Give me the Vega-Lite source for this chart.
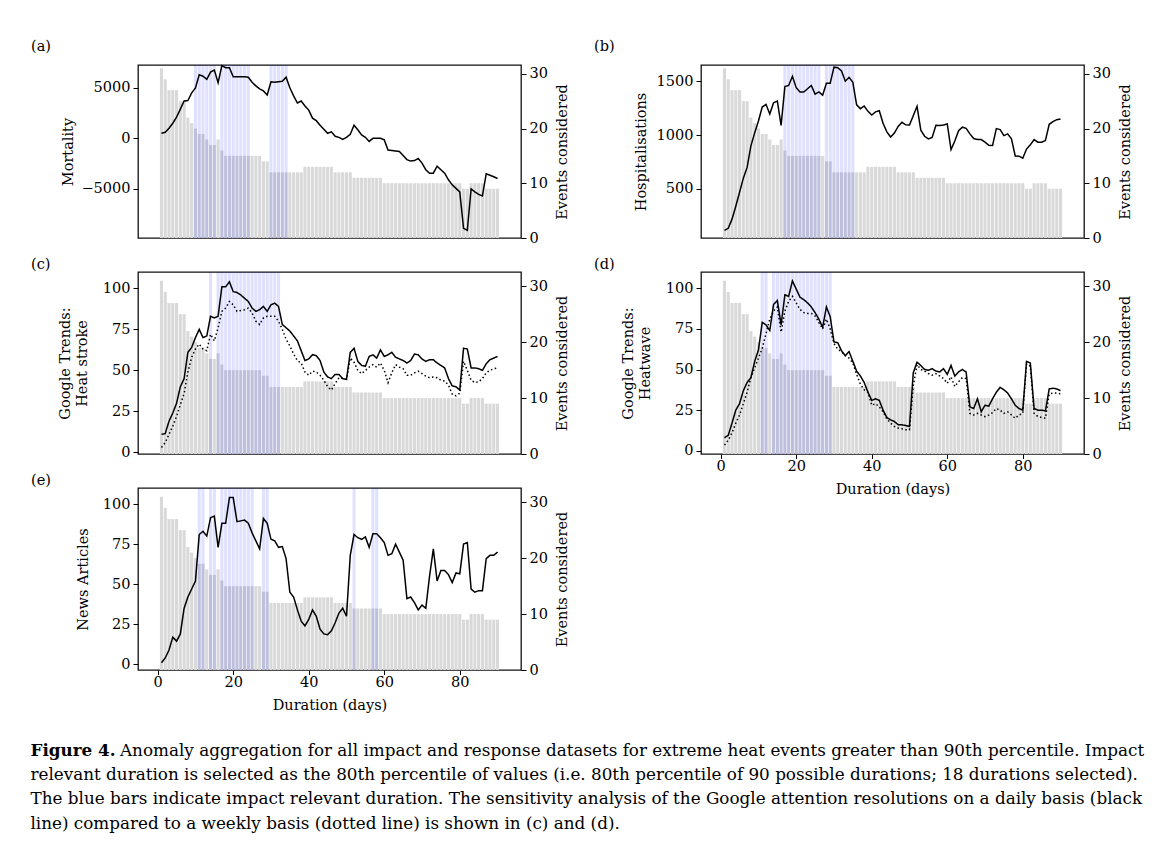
{
"$schema": "https://vega.github.io/schema/vega-lite/v6.json",
"padding": {"left": 30, "top": 37, "right": 10, "bottom": 10},
"background": "white",
"config": {
"font": "DejaVu Serif",
"view": {"stroke": "#111", "strokeWidth": 1.3},
"axis": {"labelFont": "DejaVu Serif", "labelFontSize": 14.5, "labelColor": "#000", "titleFont": "DejaVu Serif", "titleFontSize": 14.5, "titleFontWeight": "normal", "titleColor": "#000", "tickColor": "#000", "tickSize": 5, "tickWidth": 1, "domain": false, "grid": false, "labelPadding": 3, "labelFlush": false, "labelOverlap": false},
"title": {"font": "DejaVu Serif", "fontSize": 14.5, "fontWeight": "normal", "color": "#000"},
"text": {"font": "DejaVu Serif", "fontSize": 16.8, "color": "#000"}
},
"datasets": {
"events": [{"day":1,"events":31},{"day":2,"events":29},{"day":3,"events":27},{"day":4,"events":27},{"day":5,"events":27},{"day":6,"events":25},{"day":7,"events":25},{"day":8,"events":22},{"day":9,"events":21},{"day":10,"events":20},{"day":11,"events":19},{"day":12,"events":19},{"day":13,"events":18},{"day":14,"events":17},{"day":15,"events":17},{"day":16,"events":18},{"day":17,"events":16},{"day":18,"events":15},{"day":19,"events":15},{"day":20,"events":15},{"day":21,"events":15},{"day":22,"events":15},{"day":23,"events":15},{"day":24,"events":15},{"day":25,"events":15},{"day":26,"events":15},{"day":27,"events":15},{"day":28,"events":14},{"day":29,"events":14},{"day":30,"events":12},{"day":31,"events":12},{"day":32,"events":12},{"day":33,"events":12},{"day":34,"events":12},{"day":35,"events":12},{"day":36,"events":12},{"day":37,"events":12},{"day":38,"events":12},{"day":39,"events":13},{"day":40,"events":13},{"day":41,"events":13},{"day":42,"events":13},{"day":43,"events":13},{"day":44,"events":13},{"day":45,"events":13},{"day":46,"events":13},{"day":47,"events":12},{"day":48,"events":12},{"day":49,"events":12},{"day":50,"events":12},{"day":51,"events":12},{"day":52,"events":11},{"day":53,"events":11},{"day":54,"events":11},{"day":55,"events":11},{"day":56,"events":11},{"day":57,"events":11},{"day":58,"events":11},{"day":59,"events":11},{"day":60,"events":10},{"day":61,"events":10},{"day":62,"events":10},{"day":63,"events":10},{"day":64,"events":10},{"day":65,"events":10},{"day":66,"events":10},{"day":67,"events":10},{"day":68,"events":10},{"day":69,"events":10},{"day":70,"events":10},{"day":71,"events":10},{"day":72,"events":10},{"day":73,"events":10},{"day":74,"events":10},{"day":75,"events":10},{"day":76,"events":10},{"day":77,"events":10},{"day":78,"events":10},{"day":79,"events":10},{"day":80,"events":10},{"day":81,"events":9},{"day":82,"events":9},{"day":83,"events":10},{"day":84,"events":10},{"day":85,"events":10},{"day":86,"events":10},{"day":87,"events":9},{"day":88,"events":9},{"day":89,"events":9},{"day":90,"events":9}],
"a": [{"day":1,"mortality":500},{"day":2,"mortality":600},{"day":3,"mortality":1000},{"day":4,"mortality":1500},{"day":5,"mortality":2100},{"day":6,"mortality":2900},{"day":7,"mortality":3700},{"day":8,"mortality":3750},{"day":9,"mortality":4500},{"day":10,"mortality":5000},{"day":11,"mortality":6300},{"day":12,"mortality":6150},{"day":13,"mortality":5850},{"day":14,"mortality":6550},{"day":15,"mortality":6750},{"day":16,"mortality":5500},{"day":17,"mortality":7200},{"day":18,"mortality":7000},{"day":19,"mortality":7000},{"day":20,"mortality":6100},{"day":21,"mortality":6100},{"day":22,"mortality":6100},{"day":23,"mortality":6100},{"day":24,"mortality":6050},{"day":25,"mortality":5550},{"day":26,"mortality":5200},{"day":27,"mortality":4900},{"day":28,"mortality":4700},{"day":29,"mortality":4300},{"day":30,"mortality":5600},{"day":31,"mortality":5550},{"day":32,"mortality":5600},{"day":33,"mortality":5650},{"day":34,"mortality":6050},{"day":35,"mortality":5000},{"day":36,"mortality":4200},{"day":37,"mortality":3500},{"day":38,"mortality":3700},{"day":39,"mortality":3200},{"day":40,"mortality":2800},{"day":41,"mortality":2000},{"day":42,"mortality":1750},{"day":43,"mortality":1300},{"day":44,"mortality":900},{"day":45,"mortality":500},{"day":46,"mortality":650},{"day":47,"mortality":200},{"day":48,"mortality":100},{"day":49,"mortality":-100},{"day":50,"mortality":100},{"day":51,"mortality":400},{"day":52,"mortality":1300},{"day":53,"mortality":850},{"day":54,"mortality":350},{"day":55,"mortality":100},{"day":56,"mortality":-300},{"day":57,"mortality":0},{"day":58,"mortality":0},{"day":59,"mortality":0},{"day":60,"mortality":-150},{"day":61,"mortality":-1150},{"day":62,"mortality":-1200},{"day":63,"mortality":-1250},{"day":64,"mortality":-1300},{"day":65,"mortality":-1700},{"day":66,"mortality":-2100},{"day":67,"mortality":-2250},{"day":68,"mortality":-2200},{"day":69,"mortality":-2000},{"day":70,"mortality":-2450},{"day":71,"mortality":-3100},{"day":72,"mortality":-3450},{"day":73,"mortality":-3450},{"day":74,"mortality":-2750},{"day":75,"mortality":-3100},{"day":76,"mortality":-3450},{"day":77,"mortality":-4100},{"day":78,"mortality":-4600},{"day":79,"mortality":-4950},{"day":80,"mortality":-5300},{"day":81,"mortality":-8900},{"day":82,"mortality":-9100},{"day":83,"mortality":-5000},{"day":84,"mortality":-5300},{"day":85,"mortality":-5550},{"day":86,"mortality":-5700},{"day":87,"mortality":-3500},{"day":88,"mortality":-3650},{"day":89,"mortality":-3800},{"day":90,"mortality":-3970}],
"b": [{"day":1,"hosp":115},{"day":2,"hosp":135},{"day":3,"hosp":220},{"day":4,"hosp":340},{"day":5,"hosp":470},{"day":6,"hosp":600},{"day":7,"hosp":700},{"day":8,"hosp":900},{"day":9,"hosp":1020},{"day":10,"hosp":1130},{"day":11,"hosp":1260},{"day":12,"hosp":1285},{"day":13,"hosp":1195},{"day":14,"hosp":1300},{"day":15,"hosp":1315},{"day":16,"hosp":1090},{"day":17,"hosp":1450},{"day":18,"hosp":1460},{"day":19,"hosp":1545},{"day":20,"hosp":1440},{"day":21,"hosp":1400},{"day":22,"hosp":1400},{"day":23,"hosp":1430},{"day":24,"hosp":1460},{"day":25,"hosp":1380},{"day":26,"hosp":1400},{"day":27,"hosp":1370},{"day":28,"hosp":1480},{"day":29,"hosp":1480},{"day":30,"hosp":1630},{"day":31,"hosp":1625},{"day":32,"hosp":1595},{"day":33,"hosp":1500},{"day":34,"hosp":1536},{"day":35,"hosp":1489},{"day":36,"hosp":1280},{"day":37,"hosp":1245},{"day":38,"hosp":1270},{"day":39,"hosp":1220},{"day":40,"hosp":1186},{"day":41,"hosp":1215},{"day":42,"hosp":1226},{"day":43,"hosp":1110},{"day":44,"hosp":1030},{"day":45,"hosp":982},{"day":46,"hosp":1018},{"day":47,"hosp":1080},{"day":48,"hosp":1118},{"day":49,"hosp":1095},{"day":50,"hosp":1094},{"day":51,"hosp":1180},{"day":52,"hosp":1267},{"day":53,"hosp":1045},{"day":54,"hosp":989},{"day":55,"hosp":965},{"day":56,"hosp":978},{"day":57,"hosp":1090},{"day":58,"hosp":1088},{"day":59,"hosp":1094},{"day":60,"hosp":1103},{"day":61,"hosp":866},{"day":62,"hosp":945},{"day":63,"hosp":1040},{"day":64,"hosp":1073},{"day":65,"hosp":1063},{"day":66,"hosp":1011},{"day":67,"hosp":968},{"day":68,"hosp":958},{"day":69,"hosp":958},{"day":70,"hosp":935},{"day":71,"hosp":905},{"day":72,"hosp":903},{"day":73,"hosp":1060},{"day":74,"hosp":1051},{"day":75,"hosp":995},{"day":76,"hosp":1011},{"day":77,"hosp":965},{"day":78,"hosp":806},{"day":79,"hosp":804},{"day":80,"hosp":785},{"day":81,"hosp":870},{"day":82,"hosp":909},{"day":83,"hosp":958},{"day":84,"hosp":934},{"day":85,"hosp":934},{"day":86,"hosp":949},{"day":87,"hosp":1100},{"day":88,"hosp":1125},{"day":89,"hosp":1143},{"day":90,"hosp":1150}],
"c": [{"day":1,"daily":11,"weekly":3},{"day":2,"daily":11.5,"weekly":6},{"day":3,"daily":19,"weekly":11},{"day":4,"daily":24,"weekly":16},{"day":5,"daily":30,"weekly":22},{"day":6,"daily":40,"weekly":29},{"day":7,"daily":45,"weekly":36},{"day":8,"daily":61,"weekly":49},{"day":9,"daily":64,"weekly":58},{"day":10,"daily":70,"weekly":63},{"day":11,"daily":75,"weekly":66},{"day":12,"daily":70,"weekly":63},{"day":13,"daily":71,"weekly":62},{"day":14,"daily":83,"weekly":72},{"day":15,"daily":82,"weekly":68},{"day":16,"daily":83,"weekly":76},{"day":17,"daily":101,"weekly":86},{"day":18,"daily":101,"weekly":88},{"day":19,"daily":104,"weekly":92},{"day":20,"daily":98,"weekly":90},{"day":21,"daily":97.5,"weekly":86},{"day":22,"daily":96,"weekly":86.5},{"day":23,"daily":94,"weekly":87},{"day":24,"daily":92,"weekly":88},{"day":25,"daily":88,"weekly":85},{"day":26,"daily":86,"weekly":80},{"day":27,"daily":87,"weekly":78},{"day":28,"daily":89,"weekly":82},{"day":29,"daily":86,"weekly":83},{"day":30,"daily":90,"weekly":83},{"day":31,"daily":91,"weekly":83},{"day":32,"daily":89,"weekly":80},{"day":33,"daily":78,"weekly":75},{"day":34,"daily":76,"weekly":69},{"day":35,"daily":74,"weekly":65},{"day":36,"daily":71,"weekly":60},{"day":37,"daily":68,"weekly":56},{"day":38,"daily":62,"weekly":54.5},{"day":39,"daily":56,"weekly":49},{"day":40,"daily":57,"weekly":47},{"day":41,"daily":59.6,"weekly":49.5},{"day":42,"daily":59,"weekly":49},{"day":43,"daily":56,"weekly":47},{"day":44,"daily":49,"weekly":44},{"day":45,"daily":46,"weekly":40},{"day":46,"daily":45,"weekly":38},{"day":47,"daily":47.5,"weekly":42},{"day":48,"daily":47.5,"weekly":45.5},{"day":49,"daily":45,"weekly":45},{"day":50,"daily":44.5,"weekly":44.5},{"day":51,"daily":61,"weekly":57.5},{"day":52,"daily":63.5,"weekly":55},{"day":53,"daily":55.5,"weekly":50},{"day":54,"daily":53,"weekly":48},{"day":55,"daily":52.5,"weekly":50},{"day":56,"daily":58.5,"weekly":52},{"day":57,"daily":59.5,"weekly":53.5},{"day":58,"daily":57.5,"weekly":52},{"day":59,"daily":62.5,"weekly":54.5},{"day":60,"daily":58.5,"weekly":50},{"day":61,"daily":59.5,"weekly":42.5},{"day":62,"daily":61,"weekly":48.5},{"day":63,"daily":58,"weekly":53.5},{"day":64,"daily":57,"weekly":52},{"day":65,"daily":56,"weekly":51},{"day":66,"daily":54.5,"weekly":47},{"day":67,"daily":56,"weekly":47},{"day":68,"daily":60,"weekly":48.5},{"day":69,"daily":59.5,"weekly":49.5},{"day":70,"daily":57,"weekly":48},{"day":71,"daily":55.5,"weekly":46.5},{"day":72,"daily":56.5,"weekly":45.5},{"day":73,"daily":56.5,"weekly":46},{"day":74,"daily":54.5,"weekly":45.5},{"day":75,"daily":53,"weekly":44},{"day":76,"daily":51.5,"weekly":43.5},{"day":77,"daily":45,"weekly":41},{"day":78,"daily":40.5,"weekly":35.5},{"day":79,"daily":40,"weekly":34.5},{"day":80,"daily":38,"weekly":36},{"day":81,"daily":63.5,"weekly":55.5},{"day":82,"daily":63,"weekly":50},{"day":83,"daily":51.5,"weekly":44},{"day":84,"daily":51.5,"weekly":42.5},{"day":85,"daily":51,"weekly":43},{"day":86,"daily":50,"weekly":45},{"day":87,"daily":54,"weekly":48.5},{"day":88,"daily":56.5,"weekly":50},{"day":89,"daily":57.5,"weekly":51},{"day":90,"daily":58.5,"weekly":51.5}],
"d": [{"day":1,"daily":8,"weekly":3.5},{"day":2,"daily":9.5,"weekly":6.5},{"day":3,"daily":17,"weekly":11},{"day":4,"daily":25,"weekly":17},{"day":5,"daily":29,"weekly":22},{"day":6,"daily":37,"weekly":29},{"day":7,"daily":42,"weekly":36},{"day":8,"daily":45,"weekly":45},{"day":9,"daily":55,"weekly":51},{"day":10,"daily":62,"weekly":57},{"day":11,"daily":79,"weekly":63},{"day":12,"daily":77.5,"weekly":72},{"day":13,"daily":74,"weekly":81},{"day":14,"daily":90,"weekly":86},{"day":15,"daily":92.5,"weekly":88.5},{"day":16,"daily":77.5,"weekly":73},{"day":17,"daily":96,"weekly":86},{"day":18,"daily":95,"weekly":92},{"day":19,"daily":104.5,"weekly":95},{"day":20,"daily":99.5,"weekly":91},{"day":21,"daily":94.5,"weekly":87},{"day":22,"daily":93,"weekly":85},{"day":23,"daily":91,"weekly":84.5},{"day":24,"daily":88.5,"weekly":84.5},{"day":25,"daily":85,"weekly":83},{"day":26,"daily":81,"weekly":79},{"day":27,"daily":76,"weekly":75},{"day":28,"daily":88.5,"weekly":81},{"day":29,"daily":82.5,"weekly":75},{"day":30,"daily":67,"weekly":66},{"day":31,"daily":66.5,"weekly":62.5},{"day":32,"daily":61.5,"weekly":61},{"day":33,"daily":58.5,"weekly":58.5},{"day":34,"daily":61,"weekly":57},{"day":35,"daily":55,"weekly":54},{"day":36,"daily":49,"weekly":47},{"day":37,"daily":46,"weekly":41},{"day":38,"daily":42,"weekly":37.5},{"day":39,"daily":36,"weekly":36},{"day":40,"daily":31,"weekly":28},{"day":41,"daily":32,"weekly":29},{"day":42,"daily":31,"weekly":27},{"day":43,"daily":25,"weekly":24},{"day":44,"daily":20.5,"weekly":19.5},{"day":45,"daily":19,"weekly":17},{"day":46,"daily":18,"weekly":15},{"day":47,"daily":16,"weekly":14},{"day":48,"daily":16,"weekly":13.5},{"day":49,"daily":15.5,"weekly":13},{"day":50,"daily":15,"weekly":13},{"day":51,"daily":48,"weekly":40},{"day":52,"daily":54.5,"weekly":53},{"day":53,"daily":52.5,"weekly":50},{"day":54,"daily":50,"weekly":49},{"day":55,"daily":49.5,"weekly":47.5},{"day":56,"daily":50.5,"weekly":46.5},{"day":57,"daily":49,"weekly":47.5},{"day":58,"daily":48.5,"weekly":46},{"day":59,"daily":50.5,"weekly":44.5},{"day":60,"daily":47,"weekly":41.5},{"day":61,"daily":52.5,"weekly":45.5},{"day":62,"daily":46,"weekly":39.5},{"day":63,"daily":48.5,"weekly":42.5},{"day":64,"daily":50,"weekly":45},{"day":65,"daily":48.5,"weekly":44.5},{"day":66,"daily":27,"weekly":23},{"day":67,"daily":26,"weekly":22},{"day":68,"daily":32,"weekly":23},{"day":69,"daily":24,"weekly":22},{"day":70,"daily":28,"weekly":21},{"day":71,"daily":27.5,"weekly":22},{"day":72,"daily":32,"weekly":23.5},{"day":73,"daily":36,"weekly":26},{"day":74,"daily":39,"weekly":25},{"day":75,"daily":37.5,"weekly":23},{"day":76,"daily":35.5,"weekly":24},{"day":77,"daily":32,"weekly":22},{"day":78,"daily":28,"weekly":20},{"day":79,"daily":26,"weekly":22},{"day":80,"daily":25,"weekly":23},{"day":81,"daily":55,"weekly":53.5},{"day":82,"daily":54,"weekly":52},{"day":83,"daily":26,"weekly":23},{"day":84,"daily":25,"weekly":21},{"day":85,"daily":25,"weekly":20.5},{"day":86,"daily":24.5,"weekly":20},{"day":87,"daily":38,"weekly":35},{"day":88,"daily":38.5,"weekly":35.5},{"day":89,"daily":38,"weekly":35.5},{"day":90,"daily":37,"weekly":35}],
"e": [{"day":1,"articles":1},{"day":2,"articles":4},{"day":3,"articles":9},{"day":4,"articles":17},{"day":5,"articles":14.5},{"day":6,"articles":19},{"day":7,"articles":35},{"day":8,"articles":42},{"day":9,"articles":47},{"day":10,"articles":52},{"day":11,"articles":81},{"day":12,"articles":83},{"day":13,"articles":80},{"day":14,"articles":91.5},{"day":15,"articles":92.5},{"day":16,"articles":73},{"day":17,"articles":88},{"day":18,"articles":88},{"day":19,"articles":104},{"day":20,"articles":104},{"day":21,"articles":89},{"day":22,"articles":89.5},{"day":23,"articles":90},{"day":24,"articles":88},{"day":25,"articles":82},{"day":26,"articles":77},{"day":27,"articles":72},{"day":28,"articles":91},{"day":29,"articles":88},{"day":30,"articles":78},{"day":31,"articles":77},{"day":32,"articles":73},{"day":33,"articles":73.5},{"day":34,"articles":66},{"day":35,"articles":45},{"day":36,"articles":42},{"day":37,"articles":34},{"day":38,"articles":27},{"day":39,"articles":24},{"day":40,"articles":28},{"day":41,"articles":34},{"day":42,"articles":30},{"day":43,"articles":22},{"day":44,"articles":19},{"day":45,"articles":18.5},{"day":46,"articles":21},{"day":47,"articles":26},{"day":48,"articles":32},{"day":49,"articles":35},{"day":50,"articles":30},{"day":51,"articles":68},{"day":52,"articles":81},{"day":53,"articles":79},{"day":54,"articles":78},{"day":55,"articles":79.5},{"day":56,"articles":73},{"day":57,"articles":81.5},{"day":58,"articles":81.5},{"day":59,"articles":79},{"day":60,"articles":76},{"day":61,"articles":68},{"day":62,"articles":69},{"day":63,"articles":75},{"day":64,"articles":70},{"day":65,"articles":65},{"day":66,"articles":41},{"day":67,"articles":42},{"day":68,"articles":38.5},{"day":69,"articles":34},{"day":70,"articles":37},{"day":71,"articles":35},{"day":72,"articles":55},{"day":73,"articles":72},{"day":74,"articles":52},{"day":75,"articles":58.5},{"day":76,"articles":58.5},{"day":77,"articles":56},{"day":78,"articles":51},{"day":79,"articles":57},{"day":80,"articles":56.5},{"day":81,"articles":75},{"day":82,"articles":76},{"day":83,"articles":47},{"day":84,"articles":45},{"day":85,"articles":46},{"day":86,"articles":46},{"day":87,"articles":66},{"day":88,"articles":68},{"day":89,"articles":68},{"day":90,"articles":70}],
"sa": [{"day":10},{"day":11},{"day":12},{"day":13},{"day":14},{"day":15},{"day":17},{"day":18},{"day":19},{"day":20},{"day":21},{"day":22},{"day":23},{"day":24},{"day":30},{"day":31},{"day":32},{"day":33},{"day":34}],
"sb": [{"day":17},{"day":18},{"day":19},{"day":20},{"day":21},{"day":22},{"day":23},{"day":24},{"day":25},{"day":26},{"day":28},{"day":29},{"day":30},{"day":31},{"day":32},{"day":33},{"day":34},{"day":35}],
"sc": [{"day":14},{"day":16},{"day":17},{"day":18},{"day":19},{"day":20},{"day":21},{"day":22},{"day":23},{"day":24},{"day":25},{"day":26},{"day":27},{"day":28},{"day":29},{"day":30},{"day":31},{"day":32}],
"sd": [{"day":11},{"day":12},{"day":14},{"day":15},{"day":16},{"day":17},{"day":18},{"day":19},{"day":20},{"day":21},{"day":22},{"day":23},{"day":24},{"day":25},{"day":26},{"day":27},{"day":28},{"day":29}],
"se": [{"day":11},{"day":12},{"day":14},{"day":15},{"day":17},{"day":18},{"day":19},{"day":20},{"day":21},{"day":22},{"day":23},{"day":24},{"day":25},{"day":28},{"day":29},{"day":52},{"day":57},{"day":58}]
},
"spacing": 29.5,
"vconcat": [
{
"columns": 2,
"bounds": "flush",
"spacing": {"row": 34, "column": 180},
"concat": [
{
"width": 383, "height": 173,
"title": {"text": "(a)", "anchor": "start", "frame": "group", "dx": -107, "offset": 1.5, "baseline": "middle"},
"encoding": {"x": {"field": "day", "type": "quantitative", "scale": {"domain": [-3.89, 94.89], "nice": false, "zero": false}, "axis": null}},
"layer": [
{"data": {"name": "events"}, "mark": {"type": "bar", "width": 3.1, "color": "#d9d9d9"},
 "encoding": {"y": {"field": "events", "type": "quantitative", "scale": {"domain": [0, 31.6], "nice": false}, "axis": {"orient": "right", "values": [0, 10, 20, 30], "title": "Events considered", "titleAngle": -90, "titleX": 41, "titleY": 86.5, "titleAlign": "center", "titleBaseline": "middle"}}}},
{"data": {"name": "sa"}, "mark": {"type": "rule", "strokeWidth": 3.1, "color": "#0000ff", "opacity": 0.12}, "encoding": {}},
{"data": {"name": "a"}, "mark": {"type": "line", "color": "#000", "strokeWidth": 1.5},
 "encoding": {"y": {"field": "mortality", "type": "quantitative", "scale": {"domain": [-9860, 7260], "nice": false, "zero": false}, "axis": {"orient": "left", "values": [-5000, 0, 5000], "format": "d", "title": "Mortality", "titleX": -70, "titleY": 86.5, "titleAlign": "center", "titleBaseline": "middle"}}}}
],
"resolve": {"scale": {"y": "independent"}}
},
{
"width": 383, "height": 173,
"title": {"text": "(b)", "anchor": "start", "frame": "group", "dx": -107, "offset": 1.5, "baseline": "middle"},
"encoding": {"x": {"field": "day", "type": "quantitative", "scale": {"domain": [-3.89, 94.89], "nice": false, "zero": false}, "axis": null}},
"layer": [
{"data": {"name": "events"}, "mark": {"type": "bar", "width": 3.1, "color": "#d9d9d9"},
 "encoding": {"y": {"field": "events", "type": "quantitative", "scale": {"domain": [0, 31.6], "nice": false}, "axis": {"orient": "right", "values": [0, 10, 20, 30], "title": "Events considered", "titleAngle": -90, "titleX": 41, "titleY": 86.5, "titleAlign": "center", "titleBaseline": "middle"}}}},
{"data": {"name": "sb"}, "mark": {"type": "rule", "strokeWidth": 3.1, "color": "#0000ff", "opacity": 0.12}, "encoding": {}},
{"data": {"name": "b"}, "mark": {"type": "line", "color": "#000", "strokeWidth": 1.5},
 "encoding": {"y": {"field": "hosp", "type": "quantitative", "scale": {"domain": [45, 1650], "nice": false, "zero": false}, "axis": {"orient": "left", "values": [500, 1000, 1500], "format": "d", "title": "Hospitalisations", "titleX": -60, "titleY": 86.5, "titleAlign": "center", "titleBaseline": "middle"}}}}
],
"resolve": {"scale": {"y": "independent"}}
},
{
"width": 383, "height": 182,
"title": {"text": "(c)", "anchor": "start", "frame": "group", "dx": -107, "offset": -9.5, "baseline": "middle"},
"encoding": {"x": {"field": "day", "type": "quantitative", "scale": {"domain": [-3.89, 94.89], "nice": false, "zero": false}, "axis": null}},
"layer": [
{"data": {"name": "events"}, "mark": {"type": "bar", "width": 3.1, "color": "#d9d9d9"},
 "encoding": {"y": {"field": "events", "type": "quantitative", "scale": {"domain": [0, 32.55], "nice": false}, "axis": {"orient": "right", "values": [0, 10, 20, 30], "title": "Events considered", "titleAngle": -90, "titleX": 41, "titleY": 91, "titleAlign": "center", "titleBaseline": "middle"}}}},
{"data": {"name": "sc"}, "mark": {"type": "rule", "strokeWidth": 3.1, "color": "#0000ff", "opacity": 0.12}, "encoding": {}},
{"data": {"name": "c"}, "transform": [{"fold": ["daily", "weekly"], "as": ["series", "trend"]}],
 "mark": {"type": "line", "color": "#000", "strokeWidth": 1.5},
 "encoding": {
  "y": {"field": "trend", "type": "quantitative", "scale": {"domain": [-1, 110], "nice": false, "zero": false}, "axis": {"orient": "left", "values": [0, 25, 50, 75, 100], "title": ["Google Trends:", "Heat stroke"], "titleX": -72.5, "titleY": 91, "titleAlign": "center", "titleBaseline": "middle", "titleLineHeight": 17}},
  "strokeDash": {"field": "series", "type": "nominal", "scale": {"domain": ["daily", "weekly"], "range": [[1, 0], [1.5, 2.5]]}, "legend": null}}}
],
"resolve": {"scale": {"y": "independent"}}
},
{
"width": 383, "height": 182,
"title": {"text": "(d)", "anchor": "start", "frame": "group", "dx": -107, "offset": -9.5, "baseline": "middle"},
"encoding": {"x": {"field": "day", "type": "quantitative", "scale": {"domain": [-3.89, 94.89], "nice": false, "zero": false}, "axis": {"values": [0, 20, 40, 60, 80], "title": "Duration (days)", "tickSize": 4.5, "labelPadding": 1, "titleY": 35, "titleBaseline": "middle"}}},
"layer": [
{"data": {"name": "events"}, "mark": {"type": "bar", "width": 3.1, "color": "#d9d9d9"},
 "encoding": {"y": {"field": "events", "type": "quantitative", "scale": {"domain": [0, 32.55], "nice": false}, "axis": {"orient": "right", "values": [0, 10, 20, 30], "title": "Events considered", "titleAngle": -90, "titleX": 41, "titleY": 91, "titleAlign": "center", "titleBaseline": "middle"}}}},
{"data": {"name": "sd"}, "mark": {"type": "rule", "strokeWidth": 3.1, "color": "#0000ff", "opacity": 0.12}, "encoding": {}},
{"data": {"name": "d"}, "transform": [{"fold": ["daily", "weekly"], "as": ["series", "trend"]}],
 "mark": {"type": "line", "color": "#000", "strokeWidth": 1.5},
 "encoding": {
  "y": {"field": "trend", "type": "quantitative", "scale": {"domain": [-2, 110], "nice": false, "zero": false}, "axis": {"orient": "left", "values": [0, 25, 50, 75, 100], "title": ["Google Trends:", "Heatwave"], "titleX": -72.5, "titleY": 91, "titleAlign": "center", "titleBaseline": "middle", "titleLineHeight": 17}},
  "strokeDash": {"field": "series", "type": "nominal", "scale": {"domain": ["daily", "weekly"], "range": [[1, 0], [1.5, 2.5]]}, "legend": null}}}
],
"resolve": {"scale": {"y": "independent"}}
},
{
"width": 383, "height": 182,
"title": {"text": "(e)", "anchor": "start", "frame": "group", "dx": -107, "offset": -9.5, "baseline": "middle"},
"encoding": {"x": {"field": "day", "type": "quantitative", "scale": {"domain": [-3.89, 94.89], "nice": false, "zero": false}, "axis": {"values": [0, 20, 40, 60, 80], "title": "Duration (days)", "tickSize": 4.5, "labelPadding": 1, "titleY": 35, "titleBaseline": "middle"}}},
"layer": [
{"data": {"name": "events"}, "mark": {"type": "bar", "width": 3.1, "color": "#d9d9d9"},
 "encoding": {"y": {"field": "events", "type": "quantitative", "scale": {"domain": [0, 32.55], "nice": false}, "axis": {"orient": "right", "values": [0, 10, 20, 30], "title": "Events considered", "titleAngle": -90, "titleX": 41, "titleY": 91, "titleAlign": "center", "titleBaseline": "middle"}}}},
{"data": {"name": "se"}, "mark": {"type": "rule", "strokeWidth": 3.1, "color": "#0000ff", "opacity": 0.12}, "encoding": {}},
{"data": {"name": "e"}, "mark": {"type": "line", "color": "#000", "strokeWidth": 1.5},
 "encoding": {"y": {"field": "articles", "type": "quantitative", "scale": {"domain": [-3.5, 110], "nice": false, "zero": false}, "axis": {"orient": "left", "values": [0, 25, 50, 75, 100], "title": "News Articles", "titleX": -55, "titleY": 91, "titleAlign": "center", "titleBaseline": "middle"}}}}
],
"resolve": {"scale": {"y": "independent"}}
}
]
},
{
"width": 1, "height": 73,
"view": {"stroke": null},
"encoding": {"y": {"field": "line", "type": "ordinal", "axis": null, "scale": {"type": "point", "domain": [1, 2, 3, 4], "padding": 0}}, "text": {"field": "text"}},
"layer": [
{"data": {"values": [{"line": 1, "text": "Figure 4."}]}, "mark": {"type": "text", "align": "left", "baseline": "middle", "fontWeight": "bold", "dx": -108}},
{"data": {"values": [{"line": 1, "text": "Anomaly aggregation for all impact and response datasets for extreme heat events greater than 90th percentile. Impact"}]}, "mark": {"type": "text", "align": "left", "baseline": "middle", "dx": -18.5}},
{"data": {"values": [{"line": 2, "text": "relevant duration is selected as the 80th percentile of values (i.e. 80th percentile of 90 possible durations; 18 durations selected)."}, {"line": 3, "text": "The blue bars indicate impact relevant duration. The sensitivity analysis of the Google attention resolutions on a daily basis (black"}, {"line": 4, "text": "line) compared to a weekly basis (dotted line) is shown in (c) and (d)."}]}, "mark": {"type": "text", "align": "left", "baseline": "middle", "dx": -108}}
]
}
]
}
